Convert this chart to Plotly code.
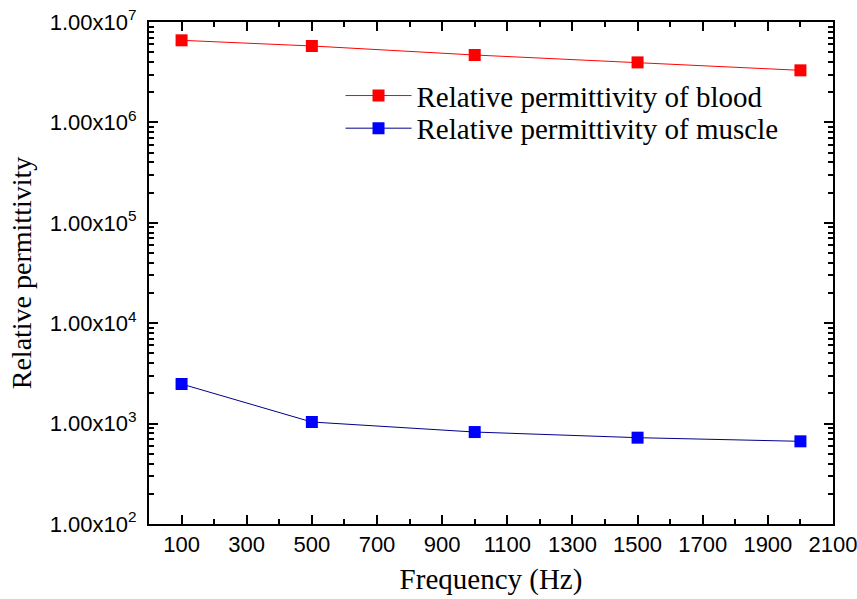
import plotly.graph_objects as go

freq = [100, 500, 1000, 1500, 2000]
blood = [6.57e6, 5.77e6, 4.69e6, 3.96e6, 3.30e6]
muscle = [2480, 1037, 824, 724, 666]

x_ticks = [100, 300, 500, 700, 900, 1100, 1300, 1500, 1700, 1900, 2100]
y_tickvals = [1e2, 1e3, 1e4, 1e5, 1e6, 1e7]
y_ticktext = ["1.00x10<sup>%d</sup>" % e for e in [2, 3, 4, 5, 6, 7]]

fig = go.Figure()
fig.add_trace(go.Scatter(x=freq, y=blood, mode="lines+markers",
                         name="Relative permittivity of blood", legend="legend",
                         line=dict(color="#FF0000", width=1),
                         marker=dict(symbol="square", size=12, color="#FF0000")))
fig.add_trace(go.Scatter(x=freq, y=muscle, mode="lines+markers",
                         name="Relative permittivity of muscle", legend="legend2",
                         line=dict(color="#00008B", width=1),
                         marker=dict(symbol="square", size=12, color="#0000FF")))

axis_common = dict(showgrid=False, zeroline=False, showline=True, linecolor="black",
                   linewidth=2, mirror="allticks", ticks="inside", tickcolor="black",
                   tickwidth=2, automargin=False, ticklabeloverflow="allow")

fig.update_xaxes(range=[0, 2100], tickvals=x_ticks, ticklen=9,
                 tickfont=dict(family="Liberation Sans", size=22, color="black"),
                 title=dict(text="Frequency (Hz)", standoff=12,
                            font=dict(family="Liberation Serif", size=29, color="black")),
                 minor=dict(ticks="inside", ticklen=5, tickwidth=2, tickcolor="black",
                            dtick=100, tick0=0, showgrid=False),
                 **axis_common)
fig.update_yaxes(type="log", range=[2, 7], tickvals=y_tickvals, ticktext=y_ticktext,
                 ticklen=9, ticklabelstandoff=6,
                 tickfont=dict(family="Liberation Sans", size=22, color="black"),
                 title=dict(text="Relative permittivity", standoff=10,
                            font=dict(family="Liberation Serif", size=28, color="black")),
                 minor=dict(ticks="inside", ticklen=5, tickwidth=2, tickcolor="black",
                            dtick="D1", showgrid=False),
                 **axis_common)

legend_common = dict(xanchor="left", yanchor="top", bgcolor="rgba(0,0,0,0)",
                     borderwidth=0, itemwidth=66,
                     font=dict(family="Liberation Serif", size=29, color="black"))

fig.update_layout(width=857, height=599, plot_bgcolor="white", paper_bgcolor="white",
                  margin=dict(l=149, r=24, t=22, b=75),
                  showlegend=True,
                  legend=dict(x=0.28, y=0.904, **legend_common),
                  legend2=dict(x=0.28, y=0.839, **legend_common))
fig.write_html("out.html")
